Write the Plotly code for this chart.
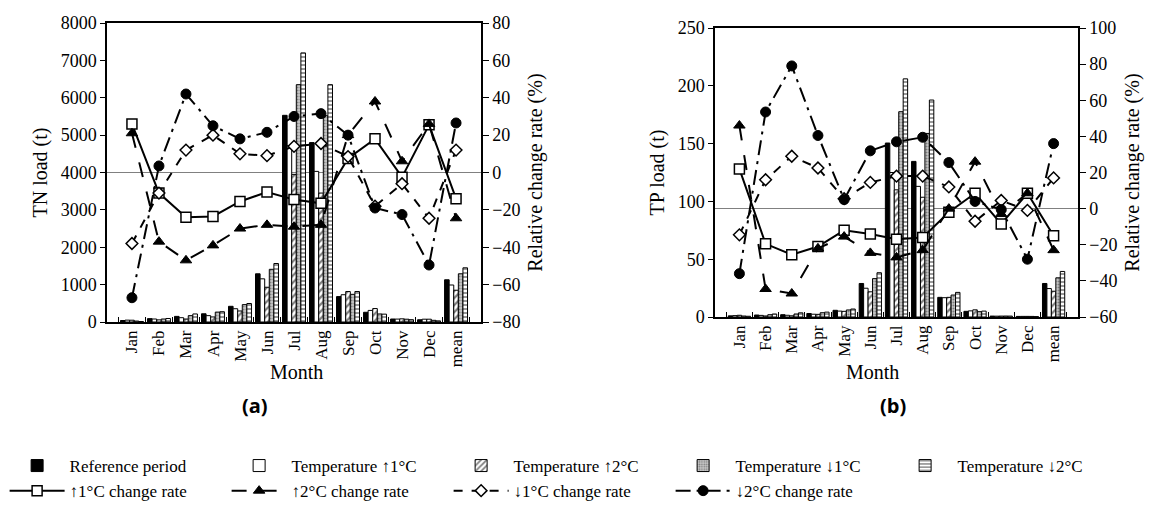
import plotly.graph_objects as go

months = ["Jan", "Feb", "Mar", "Apr", "May", "Jun", "Jul", "Aug", "Sep", "Oct", "Nov", "Dec", "mean"]

# TN load (t)
tn_ref = [40, 90, 150, 220, 420, 1290, 5530, 4800, 680, 260, 80, 60, 1130]
tn_up1 = [50, 80, 115, 170, 355, 1155, 4720, 4030, 730, 310, 78, 75, 990]
tn_up2 = [48, 57, 80, 135, 295, 930, 3950, 3450, 815, 360, 85, 75, 850]
tn_dn1 = [25, 80, 170, 265, 465, 1410, 6350, 5520, 740, 215, 75, 45, 1290]
tn_dn2 = [13, 94, 215, 275, 495, 1565, 7200, 6350, 815, 210, 62, 30, 1450]

# TN relative change rate (%)
tn_r_up1 = [26, -11, -24, -23.5, -15.5, -10.5, -14.5, -16.5, 7.5, 18, -2.5, 25.5, -14]
tn_r_up2 = [21, -37, -47, -39, -30, -28, -29, -28, 20, 38, 6, 26, -24.5]
tn_r_dn1 = [-38, -11, 12, 20, 10, 9, 14, 15.5, 8.5, -18, -6, -24.5, 12]
tn_r_dn2 = [-67, 3.5, 42, 25, 18, 21.5, 30, 31.5, 20, -19, -22.5, -49.5, 26.5]

# TP load (t)
tp_ref = [1.0, 1.7, 2.0, 3.0, 5.8, 29, 150.5, 134.6, 17, 4.9, 0.8, 0.5, 29]
tp_up1 = [1.2, 1.4, 1.5, 2.4, 5.1, 24.9, 125, 113, 16.7, 5.3, 0.73, 0.54, 24.6]
tp_up2 = [1.5, 0.9, 1.05, 2.3, 4.9, 21.8, 110, 103.6, 17, 6.2, 0.8, 0.54, 22.3]
tp_dn1 = [0.85, 2.0, 2.6, 3.7, 6.1, 33.2, 177.6, 158.8, 19, 4.6, 0.83, 0.5, 33.9]
tp_dn2 = [0.65, 2.6, 3.6, 4.2, 6.9, 38.3, 206, 187.7, 21.3, 5.1, 0.8, 0.36, 39.4]

# TP relative change rate (%)
tp_r_up1 = [22, -19.5, -25.5, -21, -12, -14, -17, -16, -2, 8.5, -8.5, 8.5, -15]
tp_r_up2 = [46, -44.5, -47, -22, -15.5, -24.5, -27, -23, 0, 26, -3, 8.5, -23]
tp_r_dn1 = [-14.5, 16, 29, 22.5, 5.5, 14.5, 18, 18, 12, -7, 4.5, -1, 17]
tp_r_dn2 = [-36, 53.5, 79, 40.5, 5, 32, 37, 39.5, 25.5, 4, -0.5, -28, 36]

bar_names = ["Reference period", "Temperature \u21911\u00b0C", "Temperature \u21912\u00b0C",
             "Temperature \u21931\u00b0C", "Temperature \u21932\u00b0C"]
line_names = ["\u21911\u00b0C change rate", "\u21912\u00b0C change rate",
              "\u21931\u00b0C change rate", "\u21932\u00b0C change rate"]

SERIF = "Liberation Serif"
W, H = 1153, 508

bar_styles = [
    dict(color="black", line=dict(color="black", width=1)),
    dict(color="white", line=dict(color="black", width=1)),
    dict(color="white", line=dict(color="black", width=1),
         pattern=dict(shape="/", fgcolor="black", bgcolor="white", size=5, solidity=0.45, fillmode="overlay")),
    dict(color="#b0b0b0", line=dict(color="black", width=1),
         pattern=dict(shape=".", fgcolor="#303030", bgcolor="#c8c8c8", size=3, solidity=0.4, fillmode="overlay")),
    dict(color="white", line=dict(color="black", width=1),
         pattern=dict(shape="-", fgcolor="black", bgcolor="white", size=4, solidity=0.4, fillmode="overlay")),
]

line_styles = [
    dict(line=dict(color="black", width=2, dash="solid"),
         marker=dict(symbol="square", size=10, color="white", line=dict(color="black", width=1.5))),
    dict(line=dict(color="black", width=2, dash="longdash"),
         marker=dict(symbol="triangle-up", size=10, color="black", line=dict(color="black", width=1))),
    dict(line=dict(color="black", width=2, dash="dash"),
         marker=dict(symbol="diamond", size=9, color="white", line=dict(color="black", width=1.5))),
    dict(line=dict(color="black", width=2, dash="longdashdot"),
         marker=dict(symbol="circle", size=10, color="black", line=dict(color="black", width=1))),
]

fig = go.Figure()

panels = [
    ("x", "y", "y2", [tn_ref, tn_up1, tn_up2, tn_dn1, tn_dn2], [tn_r_up1, tn_r_up2, tn_r_dn1, tn_r_dn2], True),
    ("x2", "y3", "y4", [tp_ref, tp_up1, tp_up2, tp_dn1, tp_dn2], [tp_r_up1, tp_r_up2, tp_r_dn1, tp_r_dn2], False),
]

for xa, ya, ya2, bars, rates, show in panels:
    for name, vals, st in zip(bar_names, bars, bar_styles):
        fig.add_trace(go.Bar(x=months, y=vals, name=name, marker=st, xaxis=xa, yaxis=ya,
                             showlegend=show, legendgroup=name))
    for name, vals, st in zip(line_names, rates, line_styles):
        fig.add_trace(go.Scatter(x=months, y=vals, name=name, mode="lines+markers", xaxis=xa, yaxis=ya2,
                                 showlegend=show, legendgroup=name, **st))

tickfont = dict(family=SERIF, size=18, color="black")
titlefont = dict(family=SERIF, size=20, color="black")

def xax(domain, anchor):
    return dict(domain=domain, anchor=anchor, type="category", showline=True, linecolor="black",
                linewidth=1.5, mirror=True, ticks="inside", ticklen=5, tickson="boundaries",
                tickcolor="black", tickangle=-90, tickfont=dict(family=SERIF, size=17, color="black"),
                showgrid=False, zeroline=False, automargin=False)

def yax(domain, anchor, rng, dtick, title):
    return dict(domain=domain, anchor=anchor, range=rng, dtick=dtick, showline=True, linecolor="black",
                linewidth=1.5, ticks="outside", ticklen=5, tickcolor="black", tickfont=tickfont,
                showgrid=False, zeroline=False, automargin=False,
                title=dict(text=title, font=titlefont, standoff=8))

def y2ax(overlay, anchor, rng, dtick, title):
    return dict(overlaying=overlay, anchor=anchor, side="right", range=rng, dtick=dtick, showline=True,
                linecolor="black", linewidth=1.5, ticks="outside", ticklen=6, tickcolor="black",
                tickfont=tickfont, showgrid=False, zeroline=True, zerolinecolor="#808080",
                zerolinewidth=1, automargin=False, title=dict(text=title, font=titlefont, standoff=8))

fig.update_layout(
    width=W, height=H, autosize=False,
    margin=dict(l=0, r=0, t=0, b=0, autoexpand=False),
    paper_bgcolor="white", plot_bgcolor="white",
    barmode="group", bargap=0.15, bargroupgap=0.0,
    xaxis=xax([107 / W, 481 / W], "y"),
    yaxis=yax([1 - 322 / H, 1 - 23 / H], "x", [0, 8000], 1000, "TN load (t)"),
    yaxis2=y2ax("y", "x", [-80, 80], 20, "Relative change rate (%)"),
    xaxis2=xax([715 / W, 1078 / W], "y3"),
    yaxis3=yax([1 - 317 / H, 1 - 28 / H], "x2", [0, 250], 50, "TP load (t)"),
    yaxis4=y2ax("y3", "x2", [-60, 100], 20, "Relative change rate (%)"),
    legend=dict(orientation="h", x=0.004, y=1 - 448 / H, xanchor="left", yanchor="top",
                itemwidth=55, entrywidth=152, entrywidthmode="pixels", traceorder="normal",
                font=dict(family=SERIF, size=17, color="black"), tracegroupgap=0,
                bgcolor="rgba(0,0,0,0)"),
    annotations=[
        dict(text="Month", x=296 / W, y=1 - 372 / H, xref="paper", yref="paper", showarrow=False,
             font=titlefont, xanchor="center", yanchor="middle"),
        dict(text="Month", x=872 / W, y=1 - 372 / H, xref="paper", yref="paper", showarrow=False,
             font=titlefont, xanchor="center", yanchor="middle"),
        dict(text="<b>(a)</b>", x=255 / W, y=1 - 405 / H, xref="paper", yref="paper", showarrow=False,
             font=dict(family="Open Sans", size=20, color="black"), xanchor="center", yanchor="middle"),
        dict(text="<b>(b)</b>", x=893 / W, y=1 - 405 / H, xref="paper", yref="paper", showarrow=False,
             font=dict(family="Open Sans", size=20, color="black"), xanchor="center", yanchor="middle"),
    ],
)

fig.write_html("out.html")
